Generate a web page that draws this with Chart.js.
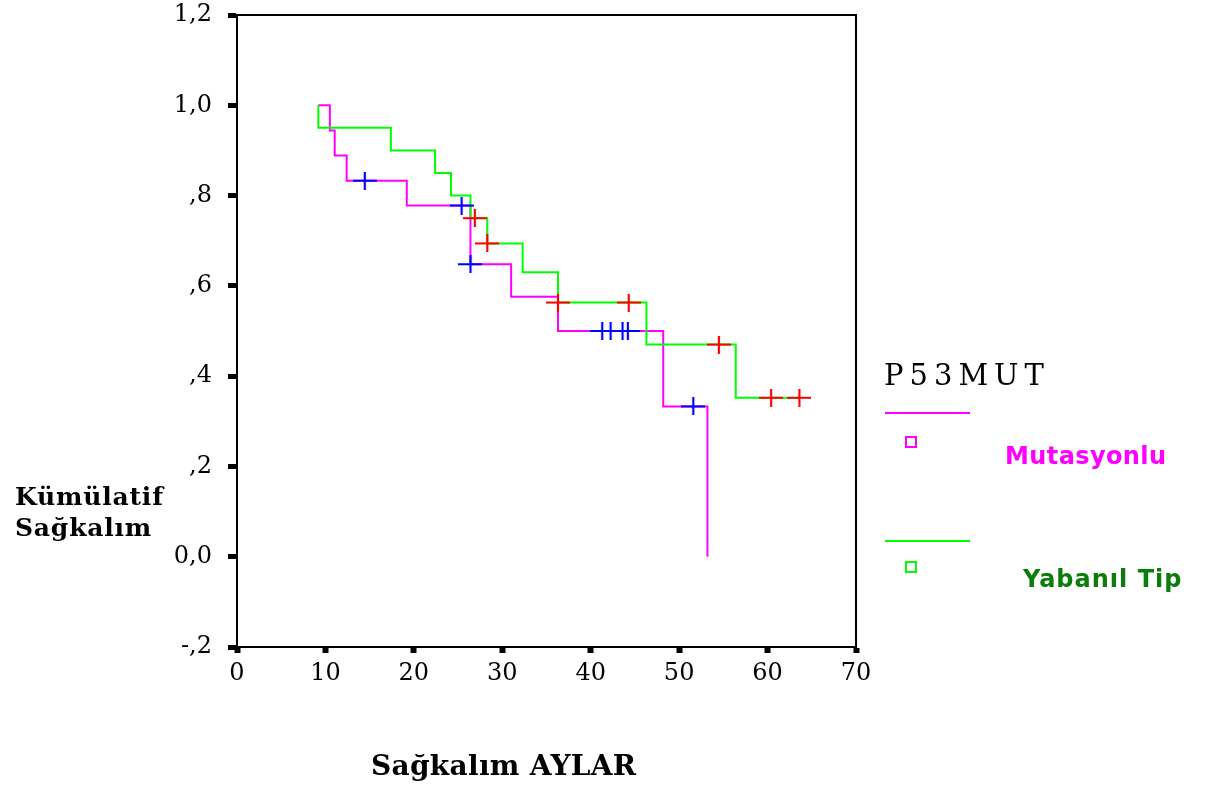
<!DOCTYPE html>
<html lang="tr">
<head>
<meta charset="utf-8">
<title>Kümülatif Sağkalım - P53MUT</title>
<script src="https://cdn.jsdelivr.net/npm/chart.js@4/dist/chart.umd.min.js"></script>
<style>
  html, body { margin: 0; padding: 0; background: #fff; }
  #wrap { position: relative; width: 1205px; height: 793px; overflow: hidden; }
  #km { position: absolute; left: 0; top: 0; }
  .txt { position: absolute; white-space: nowrap; line-height: 1.1641; }
  .serif { font-family: "DejaVu Serif", serif; color: #000; }
  .ytitle { font-weight: bold; font-size: 25px; letter-spacing: 0.8px; }
  .xtitle { font-weight: bold; font-size: 28px; letter-spacing: 0.3px; }
  .lgtitle { font-size: 29px; letter-spacing: 6px; }
  .lgtext { font-family: "DejaVu Sans", sans-serif; font-weight: bold; font-size: 24px; }
  .lgline { position: absolute; height: 2px; width: 85px; }
  .lgbox { position: absolute; width: 8px; height: 8px; border: 2px solid; }
</style>
</head>
<body>
<div id="wrap">
  <canvas id="km" width="1205" height="793"></canvas>

  <div class="txt serif ytitle" style="left:15px; top:482px;">Kümülatif</div>
  <div class="txt serif ytitle" style="left:15px; top:513px;">Sağkalım</div>
  <div class="txt serif xtitle" style="left:371px; top:750px;">Sağkalım AYLAR</div>

  <div class="txt serif lgtitle" style="left:884px; top:359px;">P53MUT</div>
  <div class="lgline" style="left:885px; top:412px; background:#ff00ff;"></div>
  <div class="lgbox" style="left:905px; top:436px; border-color:#ff00ff;"></div>
  <div class="txt lgtext" style="left:1005px; top:443px; color:#ff00ff; letter-spacing:0.4px;">Mutasyonlu</div>
  <div class="lgline" style="left:885px; top:540px; background:#00ff00;"></div>
  <div class="lgbox" style="left:905px; top:561px; border-color:#00ff00;"></div>
  <div class="txt lgtext" style="left:1023px; top:566px; color:#0a7d0a; letter-spacing:1px;">Yabanıl Tip</div>
</div>

<script>
// Kaplan-Meier step points: time (months) and cumulative survival
const mutTimes = [9.2, 10.5, 11.05, 12.4, 19.2, 26.4, 31.0, 36.3, 48.2, 53.2];
const mutSurv  = [1.0, 0.944, 0.889, 0.833, 0.778, 0.648, 0.576, 0.500, 0.333, 0.0];

const wildTimes = [9.2, 9.2, 17.4, 22.4, 24.2, 26.4, 28.3, 32.3, 36.3, 46.3, 56.4, 63.6];
const wildSurv  = [1.0, 0.95, 0.90, 0.85, 0.80, 0.75, 0.694, 0.630, 0.563, 0.470, 0.352, 0.352];

// Censored observations
const mutCensTimes = [14.45, 25.4, 26.4, 41.3, 42.25, 43.6, 44.2, 51.6];
const mutCensSurv  = [0.833, 0.778, 0.648, 0.500, 0.500, 0.500, 0.500, 0.333];

const wildCensTimes = [26.9, 28.3, 36.3, 44.3, 54.5, 60.4, 63.6];
const wildCensSurv  = [0.75, 0.694, 0.563, 0.563, 0.470, 0.352, 0.352];

// Axis ticks
const xTickValues = [0, 10, 20, 30, 40, 50, 60, 70];
const xTickLabels = ['0', '10', '20', '30', '40', '50', '60', '70'];
const yTickValues = [-0.2, 0, 0.2, 0.4, 0.6, 0.8, 1.0, 1.2];
const yTickLabels = ['-,2', '0,0', ',2', ',4', ',6', ',8', '1,0', '1,2'];

const toPoints = (xs, ys) => xs.map((x, i) => ({ x: x, y: ys[i] }));

// "+" marker used for censored cases
function crossMarker(color) {
  const c = document.createElement('canvas');
  c.width = 24; c.height = 18;
  const g = c.getContext('2d');
  g.strokeStyle = color;
  g.lineWidth = 2.2;
  g.beginPath();
  g.moveTo(0, 9); g.lineTo(24, 9);
  g.moveTo(12, 0); g.lineTo(12, 18);
  g.stroke();
  return c;
}

// Top and right edges of the plot frame
const framePlugin = {
  id: 'frame',
  afterDatasetsDraw(chart) {
    const { ctx, chartArea: a } = chart;
    ctx.save();
    ctx.strokeStyle = '#000';
    ctx.lineWidth = 2;
    ctx.beginPath();
    ctx.moveTo(a.left, a.top);
    ctx.lineTo(a.right, a.top);
    ctx.lineTo(a.right, a.bottom);
    ctx.stroke();
    ctx.restore();
  }
};

const tickFont = { family: '"DejaVu Serif", serif', size: 24, lineHeight: 1.25 };

new Chart(document.getElementById('km'), {
  type: 'line',
  data: {
    datasets: [
      {
        label: 'Mutasyonlu',
        data: toPoints(mutTimes, mutSurv),
        borderColor: '#ff00ff',
        borderWidth: 2,
        stepped: true,
        pointRadius: 0,
        fill: false,
        order: 3
      },
      {
        label: 'Yabanıl Tip',
        data: toPoints(wildTimes, wildSurv),
        borderColor: '#00ff00',
        borderWidth: 2,
        stepped: true,
        pointRadius: 0,
        fill: false,
        order: 2
      },
      {
        label: 'Mutasyonlu (sansürlü)',
        data: toPoints(mutCensTimes, mutCensSurv),
        showLine: false,
        pointStyle: crossMarker('#0000ff'),
        pointRadius: 10,
        order: 1
      },
      {
        label: 'Yabanıl Tip (sansürlü)',
        data: toPoints(wildCensTimes, wildCensSurv),
        showLine: false,
        pointStyle: crossMarker('#ff0000'),
        pointRadius: 10,
        order: 0
      }
    ]
  },
  options: {
    responsive: false,
    devicePixelRatio: 1,
    animation: false,
    layout: { padding: { left: 0, top: 0, right: 349, bottom: 0 } },
    plugins: {
      legend: { display: false },
      tooltip: { enabled: false },
      title: { display: false }
    },
    scales: {
      x: {
        type: 'linear',
        position: 'bottom',
        min: 0,
        max: 70,
        afterBuildTicks: s => { s.ticks = xTickValues.map(v => ({ value: v })); },
        afterFit: s => { s.height = 146; },
        ticks: {
          autoSkip: false,
          maxRotation: 0,
          color: '#000',
          font: tickFont,
          padding: 6,
          callback: (v, i) => xTickLabels[i]
        },
        grid: {
          drawOnChartArea: false,
          drawTicks: true,
          tickLength: 6,
          tickWidth: 6,
          tickColor: '#000'
        },
        border: { display: true, color: '#000', width: 2 }
      },
      y: {
        type: 'linear',
        min: -0.2,
        max: 1.2,
        afterBuildTicks: s => { s.ticks = yTickValues.map(v => ({ value: v })); },
        afterFit: s => { s.width = 237; s.paddingTop = 15; s.paddingBottom = 0; },
        ticks: {
          autoSkip: false,
          color: '#000',
          font: tickFont,
          padding: 16,
          callback: (v, i) => yTickLabels[i]
        },
        grid: {
          drawOnChartArea: false,
          drawTicks: true,
          tickLength: 9,
          tickWidth: 5,
          tickColor: '#000'
        },
        border: { display: true, color: '#000', width: 2 }
      }
    }
  },
  plugins: [framePlugin]
});
</script>
</body>
</html>
